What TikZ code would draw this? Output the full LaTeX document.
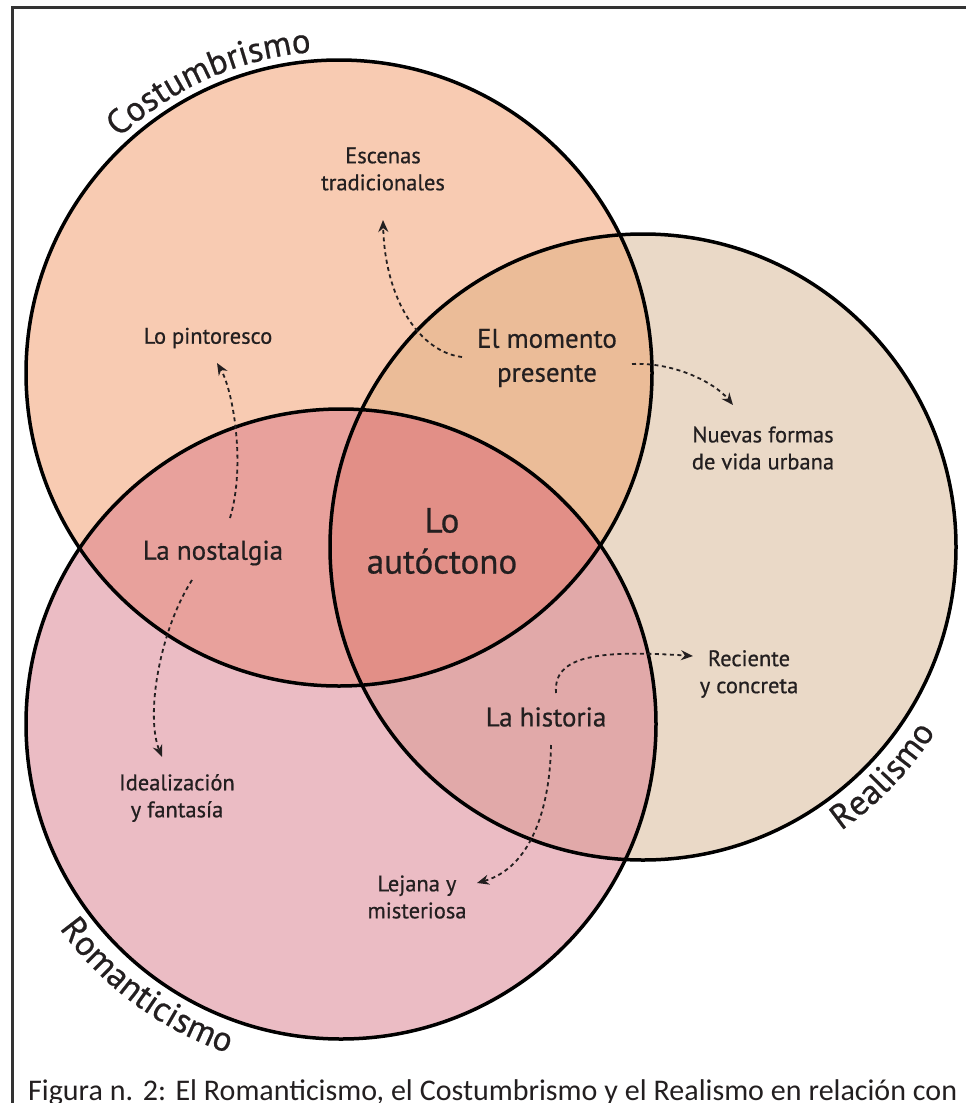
\documentclass[tikz,border=0pt]{standalone}
\usepackage{fontspec}
\setmainfont{PT Sans}[FakeBold=0.6]
\newfontfamily\capfont{Carlito}
\usetikzlibrary{decorations.text,arrows.meta}
\definecolor{ink}{HTML}{231F20}
\definecolor{costcol}{HTML}{F8CBB2}
\definecolor{romcol}{HTML}{EBBCC4}
\definecolor{realcol}{HTML}{EAD9C7}
\definecolor{crcol}{HTML}{EBBC98}
\definecolor{ccrcol}{HTML}{E8A19C}
\definecolor{rrcol}{HTML}{E1A9A9}
\definecolor{allcol}{HTML}{E28F87}
\definecolor{framecol}{HTML}{333333}
\newcommand{\curvefont}{\fontsize{35}{40}\selectfont}
\begin{document}
\begin{tikzpicture}[x=1pt,y=1pt,
  lbl/.style={font=\fontsize{22.5}{27}\selectfont, text=ink, align=center, inner sep=0pt},
  midlbl/.style={lbl, font=\fontsize{27}{34}\selectfont},
  arr/.style={ink, line width=1.8pt, dash pattern=on 4pt off 3.5pt, -{Stealth[length=12pt,width=10pt]}},
  ring/.style={line width=3.5pt, black},
  curved/.style={decorate, decoration={text along path, text align=center, text color=ink}}]
\useasboundingbox (0,0) rectangle (966,-1103);
\fill[white] (0,0) rectangle (966,-1103);
\begin{scope}
\clip (0,0) rectangle (966,-1103);
\draw[line width=3pt, framecol] (12,-1200) -- (12,-7) -- (1000,-7);
\end{scope}
% circles
\coordinate (cC) at (339,-373);
\coordinate (cR) at (341,-724);
\coordinate (cE) at (643,-547);
\fill[costcol] (cC) circle[radius=313];
\fill[romcol] (cR) circle[radius=315];
\fill[realcol] (cE) circle[radius=313];
\begin{scope}\clip (cC) circle[radius=313]; \fill[crcol] (cE) circle[radius=313];\end{scope}
\begin{scope}\clip (cC) circle[radius=313]; \fill[ccrcol] (cR) circle[radius=315];\end{scope}
\begin{scope}\clip (cR) circle[radius=315]; \fill[rrcol] (cE) circle[radius=313];\end{scope}
\begin{scope}\clip (cC) circle[radius=313]; \clip (cR) circle[radius=315]; \fill[allcol] (cE) circle[radius=313];\end{scope}
\draw[ring] (cC) circle[radius=313];
\draw[ring] (cR) circle[radius=315];
\draw[ring] (cE) circle[radius=313];
% curved titles
\path[curved, decoration={text={|\curvefont|Costumbrismo}}]
  ([shift={(339,-373)}]150:322) arc[start angle=150, end angle=78, radius=322];
\path[curved, decoration={text={|\curvefont|Romanticismo}}]
  ([shift={(341,-724)}]186:348) arc[start angle=186, end angle=281, radius=348];
\path[curved, decoration={text={|\curvefont|Realismo}}]
  ([shift={(643,-547)}]-88:346) arc[start angle=-88, end angle=0.6, radius=346];
% labels
\node[lbl] (esc) at (383,-169) {Escenas\\tradicionales};
\node[lbl] (pin) at (208,-338) {Lo pintoresco};
\node[midlbl] (mom) at (547,-358) {El momento\\presente};
\node[lbl] (nue) at (763,-448) {Nuevas formas\\de vida urbana};
\node[lbl, font=\fontsize{35}{41}\selectfont] (aut) at (442,-541) {Lo\\autóctono};
\node[midlbl] (nos) at (213,-553) {La nostalgia};
\node[lbl] (rec) at (749,-674) {Reciente\\y concreta};
\node[midlbl] (his) at (546,-717) {La historia};
\node[lbl] (ide) at (177,-798) {Idealización\\y fantasía};
\node[lbl] (lej) at (417,-897) {Lejana y\\misteriosa};
% arrows
\draw[arr] ([shift={(-85,1)}]mom.center) .. controls (420,-352) and (385,-300) .. ([shift={(0,-51)}]esc.center);
\draw[arr] ([shift={(85,-6)}]mom.center) .. controls (675,-362) and (715,-383) .. ([shift={(-30,43)}]nue.center);
\draw[arr] ([shift={(17,35)}]nos.center) .. controls (246,-465) and (233,-390) .. ([shift={(9,-25)}]pin.center);
\draw[arr] ([shift={(-21,-27)}]nos.center) .. controls (160,-630) and (145,-715) .. ([shift={(-15,41)}]ide.center);
\draw[arr] ([shift={(10,24)}]his.center) .. controls (553,-655) and (600,-650) .. ([shift={(-56,18)}]rec.center);
\draw[arr] ([shift={(5,-28)}]his.center) .. controls (550,-810) and (530,-868) .. ([shift={(60,14)}]lej.center);
% caption
\node[anchor=base west, inner sep=0pt, text=ink] (cap) at (28,-1100)
  {\capfont\fontsize{30}{36}\selectfont\makebox[929pt][s]{Figura n. 2: El Romanticismo, el Costumbrismo y el Realismo en relación con}};
\end{tikzpicture}
\end{document}
